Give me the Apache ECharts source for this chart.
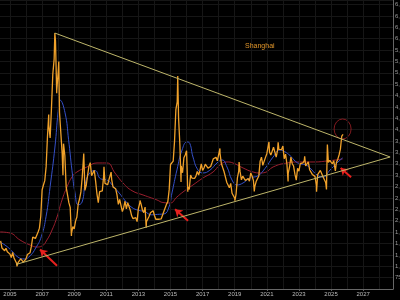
<!DOCTYPE html>
<html>
<head>
<meta charset="utf-8">
<script src="https://cdn.jsdelivr.net/npm/echarts@6/dist/echarts.min.js"></script>
<style>
html,body{margin:0;padding:0;background:#000;}
#c{width:400px;height:300px;}
</style>
</head>
<body>
<div id="c"></div>
<script>
// ---- DATA ----
const dates = [
'2004-05','2004-06','2004-07','2004-08','2004-09','2004-10','2004-11','2004-12',
'2005-01','2005-02','2005-03','2005-04','2005-05','2005-06-06','2005-06','2005-07','2005-08','2005-09','2005-10','2005-11','2005-12',
'2006-01','2006-02','2006-03','2006-04','2006-05','2006-06','2006-07','2006-08','2006-09','2006-10','2006-11','2006-12',
'2007-01','2007-02','2007-03','2007-04','2007-05-29','2007-05','2007-06','2007-07','2007-08','2007-09','2007-10-16','2007-10','2007-11-28','2007-11','2007-12',
'2008-01-14','2008-01','2008-02','2008-03','2008-04-18','2008-04','2008-05','2008-06','2008-07','2008-08','2008-09','2008-10-28','2008-10','2008-11','2008-12',
'2009-01','2009-02','2009-03','2009-04','2009-05','2009-06','2009-07','2009-08-04','2009-08','2009-09','2009-10','2009-11','2009-12',
'2010-01','2010-02','2010-03','2010-04','2010-05','2010-06','2010-07','2010-08','2010-09','2010-10','2010-11-08','2010-11','2010-12',
'2011-01','2011-02','2011-03','2011-04-18','2011-04','2011-05','2011-06','2011-07','2011-08','2011-09','2011-10','2011-11','2011-12',
'2012-01','2012-02','2012-03','2012-04','2012-05','2012-06','2012-07','2012-08','2012-09','2012-10','2012-11','2012-12-03','2012-12',
'2013-01','2013-02-06','2013-02','2013-03','2013-04','2013-05','2013-06-25','2013-06','2013-07','2013-08','2013-09','2013-10','2013-11','2013-12',
'2014-01','2014-02','2014-03','2014-04','2014-05','2014-06','2014-07','2014-08','2014-09','2014-10','2014-11','2014-12',
'2015-01','2015-02','2015-03','2015-04','2015-05','2015-06-12','2015-06','2015-07','2015-08-26','2015-08','2015-09','2015-10','2015-11','2015-12',
'2016-01-28','2016-01','2016-02','2016-03','2016-04','2016-05','2016-06','2016-07','2016-08','2016-09','2016-10','2016-11','2016-12',
'2017-01','2017-02','2017-03','2017-04','2017-05','2017-06','2017-07','2017-08','2017-09','2017-10','2017-11','2017-12',
'2018-01-29','2018-01','2018-02','2018-03','2018-04','2018-05','2018-06','2018-07','2018-08','2018-09','2018-10','2018-11','2018-12',
'2019-01-04','2019-01','2019-02','2019-03','2019-04-08','2019-04','2019-05','2019-06','2019-07','2019-08','2019-09','2019-10','2019-11','2019-12',
'2020-01','2020-02','2020-03-19','2020-03','2020-04','2020-05','2020-06','2020-07','2020-08','2020-09','2020-10','2020-11','2020-12',
'2021-01','2021-02-18','2021-02','2021-03','2021-04','2021-05','2021-06','2021-07','2021-08','2021-09-14','2021-09','2021-10','2021-11','2021-12',
'2022-01','2022-02','2022-03','2022-04-27','2022-04','2022-05','2022-06','2022-07','2022-08','2022-09','2022-10','2022-11','2022-12',
'2023-01','2023-02','2023-03','2023-04','2023-05-09','2023-05','2023-06','2023-07','2023-08','2023-09','2023-10','2023-11','2023-12',
'2024-01','2024-02-05','2024-02','2024-03','2024-04','2024-05','2024-06','2024-07','2024-08','2024-09-18','2024-09','2024-10-08','2024-10','2024-11','2024-12',
'2025-01','2025-02','2025-03','2025-04-07','2025-04','2025-05','2025-06','2025-07','2025-08','2025-09'
];
const closes = [
1555,1399,1386,1342,1396,1320,1340,1266,
1191,1306,1181,1159,1060,998,1080,1083,1162,1155,1092,1099,1161,
1258,1299,1298,1440,1641,1672,1612,1601,1752,1837,2099,2675,
2786,2881,3183,3841,4335,4109,3821,4471,5218,5552,6124,5954,4803,4871,5262,
5497,4383,4348,3473,3000,3693,3433,2736,2776,2397,2293,1664,1729,1871,1821,
1991,2082,2373,2477,2633,2959,3412,3478,2667,2779,2996,3195,3277,
2989,3051,3110,2871,2592,2398,2638,2638,2656,2979,3186,2820,2808,
2790,2905,2928,3067,2911,2743,2762,2701,2568,2359,2468,2333,2199,
2292,2428,2262,2396,2373,2225,2103,2047,2086,2068,1980,1949,2269,
2385,2444,2365,2236,2177,2300,1849,1979,1994,2098,2175,2141,2220,2116,
2033,2056,2033,2026,2039,2048,2202,2217,2364,2420,2683,3235,
3210,3310,3748,4442,4612,5178,4277,3664,2850,3206,3053,3383,3445,3539,
2638,2738,2688,3004,2938,2917,2930,2979,3085,3005,3100,3250,3104,
3159,3242,3223,3155,3117,3192,3273,3361,3349,3393,3317,3307,
3587,3481,3259,3169,3082,3095,2847,2876,2725,2821,2603,2588,2494,
2440,2585,2941,3091,3288,3078,2899,2979,2932,2886,2905,2929,2871,3050,
2977,2880,2646,2750,2860,2852,2985,3310,3396,3218,3225,3392,3473,
3483,3731,3509,3442,3447,3615,3591,3397,3544,3723,3568,3547,3564,3640,
3361,3462,3252,2863,3047,3186,3399,3253,3202,3024,2893,3151,3089,
3255,3280,3273,3323,3418,3204,3202,3291,3120,3110,3018,3030,2975,
2789,2635,3015,3041,3105,3087,2967,2939,2842,2689,3336,3674,3280,3326,3352,
3250,3320,3335,3096,3279,3347,3444,3573,3858,3900
];
// blue moving average
const blueT = [2004.38,2004.75,2005.1,2005.5,2005.9,2006.25,2006.6,2006.95,2007.25,2007.5,2007.8,2008.0,2008.12,2008.43,2008.65,2008.86,2009.05,2009.25,2009.49,2009.7,2009.97,2010.3,2010.65,2011.04,2011.42,2011.8,2012.2,2012.6,2013.0,2013.4,2013.8,2014.2,2014.6,2014.9,2015.09,2015.4,2015.72,2016.03,2016.2,2016.4,2016.71,2017.02,2017.45,2017.9,2018.21,2018.52,2018.83,2019.14,2019.52,2019.95,2020.45,2020.89,2021.39,2021.82,2022.1,2022.45,2022.8,2023.07,2023.4,2023.69,2024.13,2024.5,2024.94,2025.37,2025.72];
const blueV = [1530,1450,1340,1200,1160,1230,1400,1650,2100,2750,3620,4400,4650,4370,3780,3110,2610,2350,2410,2830,3050,3100,2920,2895,2760,2610,2430,2290,2230,2200,2130,2140,2150,2300,2610,3115,3555,3730,3700,3400,3115,3050,3110,3270,3335,3180,2895,2786,2830,2939,2990,3150,3400,3555,3520,3430,3300,3250,3230,3159,3005,2961,3115,3269,3380];
// red long moving average
const redT = [2004.38,2005.0,2005.62,2006.25,2006.68,2006.99,2007.3,2007.62,2007.93,2008.24,2008.55,2008.86,2009.17,2009.8,2010.42,2011.04,2011.54,2012.04,2012.6,2013.29,2014.16,2014.53,2014.97,2015.4,2015.78,2016.4,2017.02,2017.65,2018.08,2018.52,2018.89,2019.52,2020.14,2020.58,2020.89,2021.39,2022.26,2023.07,2023.88,2024.75,2025.72];
const redV = [1753,1730,1577,1467,1423,1445,1577,1797,2082,2456,2742,2961,3071,3181,3269,3269,3049,2830,2660,2566,2456,2400,2390,2522,2632,2786,2939,3071,3225,3291,3269,3159,3071,3050,3060,3181,3269,3291,3291,3313,3357];
// triangle trend lines
const upperLine = [[2007.79, 6124], [2028.68, 3401]];
const lowerLine = [[2005.38, 1040], [2028.68, 3401]];
// red arrows: [tail, tip]
const arrows = [
  [[2007.93, 1010], [2006.87, 1370]],
  [[2016.09, 2000], [2015.28, 2250]],
  [[2026.25, 2955], [2025.6, 3160]]
];
const circleCenter = [2025.72, 4016];
const xLabels = [2005,2007,2009,2011,2013,2015,2017,2019,2021,2023,2025,2027];
const yearLines = [2005,2006,2007,2008,2009,2010,2011,2012,2013,2014,2015,2016,2017,2018,2019,2020,2021,2022,2023,2024,2025,2026,2027,2028];
const titleText = 'Shanghai';

// ---- BUILD ----
function toYear(s){
  const p = s.split('-').map(Number);
  if (p.length === 2) return p[0] + p[1]/12;
  return p[0] + (p[1]-1)/12 + p[2]/365;
}
const price = dates.map((d,i)=>[toYear(d), closes[i]]);
const blue = blueT.map((t,i)=>[t, blueV[i]]);
const red = redT.map((t,i)=>[t, redV[i]]);

const chart = echarts.init(document.getElementById('c'), null, {renderer:'canvas'});
const tag = (val, bg, fg, off) => ({
  yAxis: val,
  lineStyle: {opacity: 0},
  label: {show: true, position: 'end', distance: 1, formatter: String(val.toFixed(2)), backgroundColor: bg, color: fg, fontSize: 6, padding: [1,2], offset: [0, off||0]}
});
const option = {
  backgroundColor: '#000',
  animation: false,
  title: {text: titleText, left: 240, top: 38, textStyle: {color: '#e0952a', fontSize: 7, fontWeight: 'normal', fontFamily: 'Liberation Sans, Arial, sans-serif'}},
  grid: {left: 0, right: 7, top: 0, bottom: 11, containLabel: false, outerBoundsMode: 'none'},
  xAxis: {
    type: 'value', min: 2004.377, max: 2028.86,
    axisLine: {show: true, lineStyle: {color: '#666'}},
    axisTick: {show: true, customValues: xLabels, length: 2, lineStyle: {color: '#666'}},
    axisLabel: {customValues: xLabels, color: '#bbb', fontSize: 6, margin: 2, formatter: v => String(Math.round(v))},
    splitLine: {show: false}
  },
  yAxis: {
    type: 'value', position: 'right', min: 500, max: 6850, interval: 250,
    axisLine: {show: true, lineStyle: {color: '#666'}},
    axisTick: {show: false},
    axisLabel: {color: '#999', fontSize: 6, margin: 2, showMaxLabel: false, showMinLabel: false},
    splitLine: {show: true, lineStyle: {color: '#161616', width: 1}}
  },
  series: [
    {type: 'line', name: 'grid', data: [], silent: true,
     markLine: {silent: true, symbol: 'none', label: {show: false}, lineStyle: {color: '#161616', width: 1, type: 'solid'},
       data: yearLines.map(y => ({xAxis: y}))}},
    {type: 'line', name: 'red', data: red, smooth: true, showSymbol: false, lineStyle: {color: '#9a1f2e', width: 1}, z: 3,
     markLine: {silent: true, symbol: 'none', data: [tag(redV[redV.length-1], '#e0303a', '#fff', 6)]}},
    {type: 'line', name: 'blue', data: blue, smooth: true, showSymbol: false, lineStyle: {color: '#3550c8', width: 1}, z: 4,
     markLine: {silent: true, symbol: 'none', data: [tag(blueV[blueV.length-1], '#4a6ae0', '#fff', 0)]}},
    {type: 'line', name: 'price', data: price, showSymbol: false, lineStyle: {color: '#f0a12a', width: 1.3}, z: 5,
     markLine: {silent: true, symbol: 'none', data: [tag(closes[closes.length-1], '#f0a12a', '#000', 0)]}},
    {type: 'line', name: 'upper', data: upperLine, showSymbol: false, lineStyle: {color: '#bdb56a', width: 1}, z: 6},
    {type: 'line', name: 'lower', data: lowerLine, showSymbol: false, lineStyle: {color: '#bdb56a', width: 1}, z: 6,
     markLine: {silent: true, symbol: ['none','arrow'], symbolSize: 7, label: {show: false},
       lineStyle: {color: '#e8211e', width: 2, type: 'solid'},
       data: arrows.map(a => [{coord: a[0]}, {coord: a[1]}])}}
  ]
};
chart.setOption(option);
const c = chart.convertToPixel({gridIndex: 0}, circleCenter);
chart.setOption({graphic: [{type: 'circle', x: c[0], y: c[1], scaleX: 0.85, scaleY: 1, shape: {cx: 0, cy: 0, r: 10}, style: {fill: 'none', stroke: '#8c1c22', lineWidth: 1}, silent: true}]});
</script>
</body>
</html>
